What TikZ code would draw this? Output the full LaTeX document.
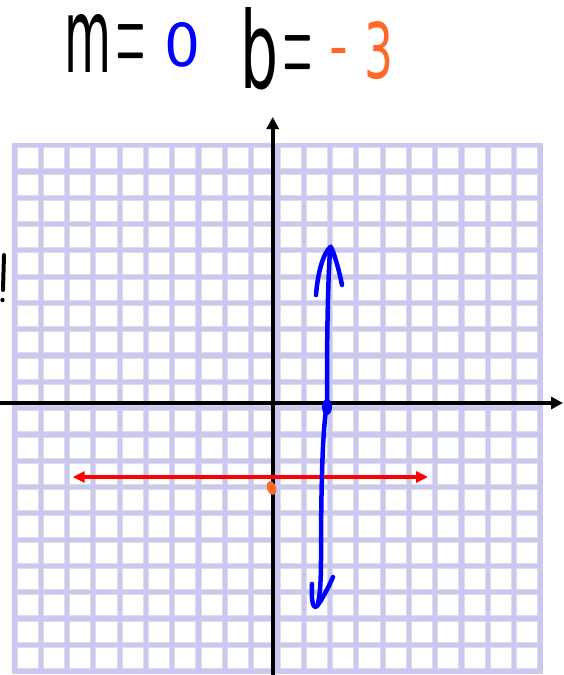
\documentclass[tikz,border=0pt]{standalone}
\usepackage{fontspec}
\setmainfont{DejaVu Sans}
\newfontfamily\lmfont{Latin Modern Roman}
\usetikzlibrary{arrows.meta}
\definecolor{gridlav}{RGB}{200,200,242}
\definecolor{cellgray}{RGB}{222,222,222}
\definecolor{penblue}{RGB}{0,0,255}
\definecolor{penred}{RGB}{255,0,0}
\definecolor{penorange}{RGB}{255,105,40}
\begin{document}
\begin{tikzpicture}[x=1pt,y=-1pt,
  glyph/.style={inner sep=0pt,outer sep=0pt},
  axisline/.style={line width=4.2pt,black,-{Triangle[length=12pt,width=12pt]}},
  redline/.style={line width=3.8pt,penred,{Triangle[length=12pt,width=11pt]}-{Triangle[length=12pt,width=11pt]}},
  bluepen/.style={line width=4.5pt,penblue,line cap=round,line join=round},
  cell/.style={draw=cellgray,line width=0.8pt,fill=white}]
\useasboundingbox (0,0) rectangle (563,675);
% grid
\fill[gridlav] (11.8,142.5) rectangle (542.8,673.5);
\foreach \i in {0,...,19}{
  \foreach \j in {0,...,19}{
    \draw[cell] ({16.9+26.3*\i},{147.6+26.3*\j}) rectangle ({16.9+26.3*\i+21.1},{147.6+26.3*\j+21.1});
  }
}
% axes
\coordinate (ybot) at (272.7,675);
\coordinate (ytop) at (272.7,117);
\coordinate (xleft) at (0,403);
\coordinate (xright) at (563,403);
\draw[axisline] (ybot) -- (ytop);
\draw[axisline] (xleft) -- (xright);
% red line
\coordinate (rl) at (72.7,477);
\coordinate (rr) at (428,477);
\draw[redline] (rl) -- (rr);
% blue hand-drawn line
\draw[bluepen] (316,295) .. controls (318,270) and (324,252) .. (330.7,246.7) .. controls (334,252) and (339,270) .. (342,285);
\draw[bluepen] (330,250) .. controls (327,300) and (327,360) .. (327,404) .. controls (322,430) and (321,500) .. (321,560) .. controls (321,580) and (320,595) .. (318,603);
\draw[bluepen] (312,584) .. controls (311,600) and (313,610) .. (317,606) .. controls (322,600) and (328,588) .. (333,577);
\fill[penblue] (327,407) ellipse (5 and 8);
% orange dot
\fill[penorange,rotate around={20:(271.5,488)}] (271.5,488) ellipse (4.5 and 7);
% cut-off mark at left edge
\draw[line width=4pt,line cap=round] (4,255) -- (3,290);
\fill (2.5,300) circle (2.2);
% title
\node[glyph,anchor=south west] (tm) at (64,72) {\resizebox{47pt}{58pt}{m}};
\node[glyph,anchor=base] (teq1) at (131,81) {\scalebox{0.8}[3.2]{\lmfont\fontsize{50}{50}\selectfont =}};
\node[glyph,anchor=south west,text=penblue] (tzero) at (164,67) {\resizebox{36pt}{44pt}{0}};
\node[glyph,anchor=south west] (tb) at (240,90) {\resizebox{38pt}{81pt}{b}};
\node[glyph,anchor=base] (teq2) at (298,92.5) {\scalebox{0.8}[3.2]{\lmfont\fontsize{50}{50}\selectfont =}};
\node[glyph,anchor=base,text=penorange] (tminus) at (339,68) {\scalebox{1.3}[1.6]{\fontsize{40}{40}\selectfont -}};
\node[glyph,anchor=south west,text=penorange] (tthree) at (364,80) {\resizebox{29pt}{57pt}{3}};
\end{tikzpicture}
\end{document}
